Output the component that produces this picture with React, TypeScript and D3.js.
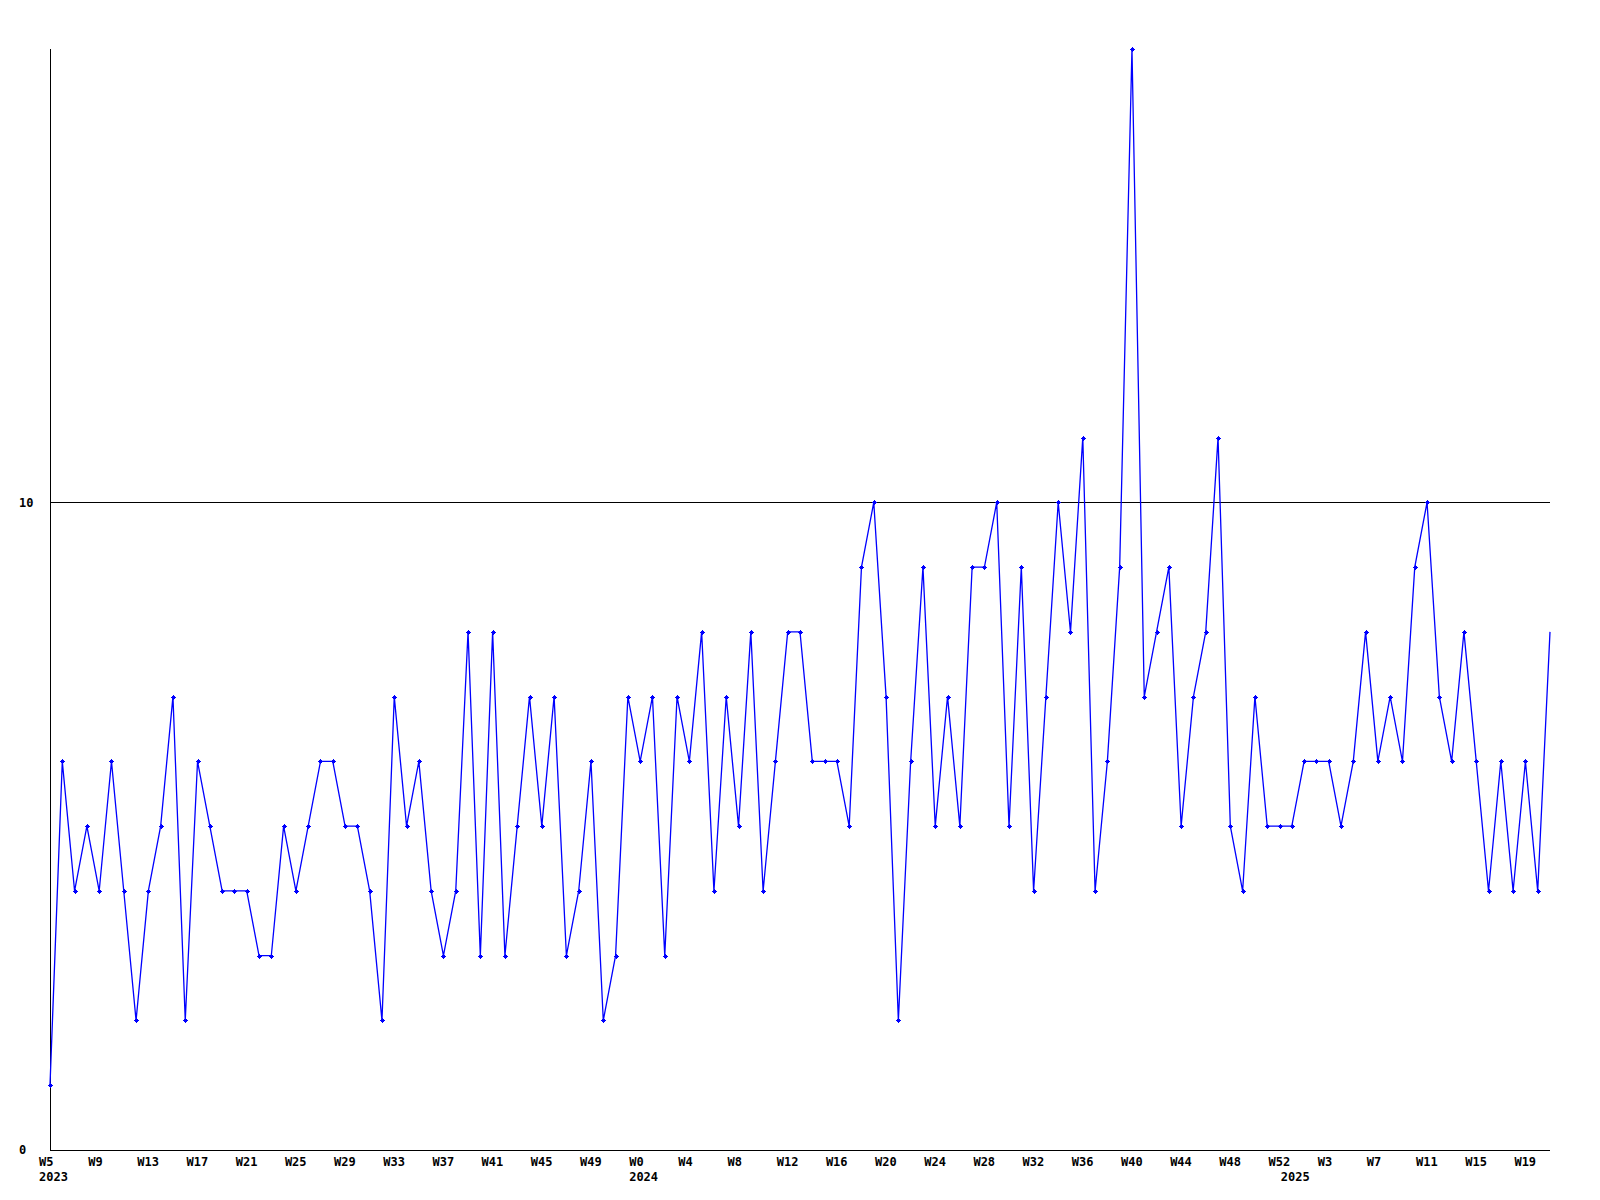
import * as d3 from 'd3';

// weekly counts, W5 2023 .. W21 2025
const values = [
    1, 6, 4, 5, 4, 6, 4, 2, 4, 5, 7, 2, 6, 5, 4, 4, 4, 3, 3, 5,
    4, 5, 6, 6, 5, 5, 4, 2, 7, 5, 6, 4, 3, 4, 8, 3, 8, 3, 5, 7,
    5, 7, 3, 4, 6, 2, 3, 7, 6, 7, 3, 7, 6, 8, 4, 7, 5, 8, 4, 6,
    8, 8, 6, 6, 6, 5, 9, 10, 7, 2, 6, 9, 5, 7, 5, 9, 9, 10, 5, 9,
    4, 7, 10, 8, 11, 4, 6, 9, 17, 7, 8, 9, 5, 7, 8, 11, 5, 4, 7, 5,
    5, 5, 6, 6, 6, 5, 6, 8, 6, 7, 6, 9, 10, 7, 6, 8, 6, 4, 6, 4,
    6, 4, 8,
];

const weekLabels = [
    'W5', 'W9', 'W13', 'W17', 'W21', 'W25', 'W29', 'W33', 'W37', 'W41', 'W45', 'W49',
    'W0', 'W4', 'W8', 'W12', 'W16', 'W20', 'W24', 'W28', 'W32', 'W36', 'W40', 'W44', 'W48', 'W52',
    'W3', 'W7', 'W11', 'W15', 'W19',
];
const labelStep = 4;

const yearLabels = ['2023', '2024', '2025'];
const yearIndex = [0, 48, 101];

const yTicks = [0, 10];
const yMax = 17;

const width = 1600;
const height = 1200;
const margin = { top: 49, right: 50, bottom: 50, left: 50 };
const font = '"DejaVu Sans Mono", monospace';

export default function App() {
    const x = d3.scaleLinear()
        .domain([0, values.length - 1])
        .range([margin.left, width - margin.right]);

    const y = d3.scaleLinear()
        .domain([0, yMax])
        .range([height - margin.bottom, margin.top]);

    const line = d3.line<number>()
        .x((_, i) => x(i))
        .y(d => y(d));

    const marker = (cx: number, cy: number) => {
        const px = Math.round(cx);
        const py = Math.round(cy);
        return `M${px - 2.5},${py - 0.5}h5v1h-5z M${px - 0.5},${py - 2.5}h1v5h-1z M${px - 1.5},${py - 1.5}h3v3h-3z`;
    };

    const bottom = height - margin.bottom;

    return (
        <>
            <style>{`body{margin:0}`}</style>
            <svg width={width} height={height} style={{ display: 'block', background: '#fff' }}>
                {/* grid line at 10 */}
                {yTicks.filter(t => t > 0).map(t => (
                    <line key={t} x1={margin.left} x2={width - margin.right}
                        y1={Math.round(y(t)) + 0.5} y2={Math.round(y(t)) + 0.5}
                        stroke="#000" strokeWidth={1} shapeRendering="crispEdges" />
                ))}

                {/* axes */}
                <line x1={margin.left + 0.5} x2={margin.left + 0.5} y1={margin.top} y2={bottom + 0.5}
                    stroke="#000" strokeWidth={1} shapeRendering="crispEdges" />
                <line x1={margin.left} x2={width - margin.right} y1={bottom + 0.5} y2={bottom + 0.5}
                    stroke="#000" strokeWidth={1} shapeRendering="crispEdges" />

                {yTicks.map(t => (
                    <text key={t} x={19} y={y(t)} dy="0.35em" fontFamily={font} fontWeight="bold"
                        fontSize={12} fill="#000">{t}</text>
                ))}

                {weekLabels.map((lab, k) => (
                    <text key={lab + k} x={x(k * labelStep) - 11} y={1166} fontFamily={font}
                        fontWeight="bold" fontSize={12} fill="#000">{lab}</text>
                ))}

                {yearLabels.map((lab, k) => (
                    <text key={lab} x={x(yearIndex[k]) - 11} y={1181} fontFamily={font}
                        fontWeight="bold" fontSize={12} fill="#000">{lab}</text>
                ))}

                <path d={line(values) ?? ''} fill="none" stroke="#0000ff" strokeWidth={1.3} />

                {values.slice(0, -1).map((v, i) => (
                    <path key={i} d={marker(x(i), y(v))} fill="#0000ff" shapeRendering="crispEdges" />
                ))}
            </svg>
        </>
    );
}
